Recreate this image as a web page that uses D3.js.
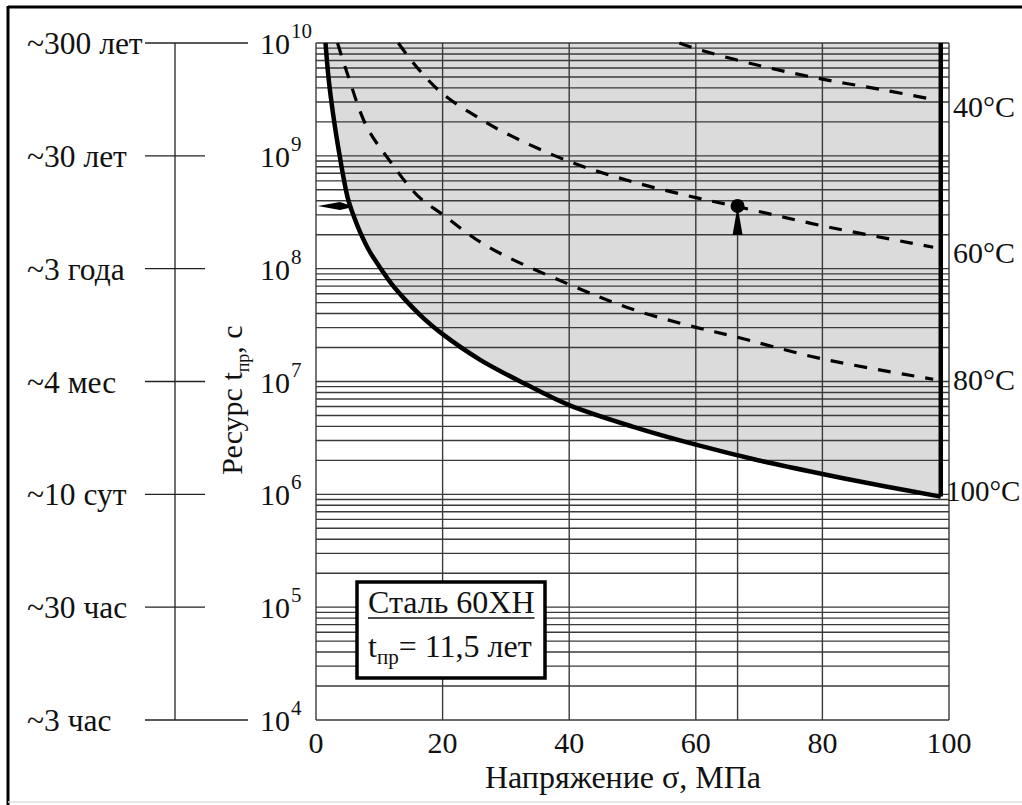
<!DOCTYPE html>
<html>
<head>
<meta charset="utf-8">
<script src="https://cdn.jsdelivr.net/npm/d3@7"></script>
<style>
  body { margin: 0; background: #fff; }
  svg { display: block; }
  text { font-family: "Liberation Serif", "Times New Roman", serif; fill: #111; }
</style>
</head>
<body>
<svg id="chart" width="1022" height="805"></svg>
<script>
// data
const sigmaTicks = [0, 20, 40, 60, 80, 100];
const decades = [4, 5, 6, 7, 8, 9, 10];
const timeLabels = ['~3 час', '~30 час', '~10 сут', '~4 мес', '~3 года', '~30 лет', '~300 лет'];
const minorSteps = [1, 2, 3, 4, 5, 6, 7, 8, 9];

// [sigma MPa, log10 t]
const curve100 = [[1.5, 10.0], [2.0, 9.68], [2.7, 9.37], [3.5, 9.08], [5.0, 8.63], [6.0, 8.46], [7.0, 8.32],
    [8.5, 8.15], [10, 8.02], [12, 7.86], [14, 7.73], [17, 7.56], [20, 7.42], [26, 7.19], [33, 6.98],
    [40, 6.79], [50, 6.6], [60, 6.44], [70, 6.3], [80, 6.18], [90, 6.07], [98.7, 5.98]];
const curve80 = [[3.4, 10.0], [5, 9.72], [8, 9.26], [11.6, 8.96], [16, 8.65], [20, 8.48], [27, 8.2],
    [40, 7.86], [50, 7.64], [60, 7.48], [66, 7.4], [80, 7.2], [97.5, 7.02]];
const curve60 = [[13, 10.0], [16, 9.78], [20, 9.55], [25, 9.36], [30, 9.2], [40, 8.95], [50, 8.77],
    [60, 8.63], [66.6, 8.55], [80, 8.38], [97.5, 8.19]];
const curve40 = [[57.4, 10.0], [60, 9.95], [70, 9.8], [80, 9.68], [90, 9.58], [97.5, 9.5]];
const tempLabels = ['100°C', '80°C', '60°C', '40°C'];

const sigmaLimit = 98.7;      // thick right boundary of the zone
const markerSigma = 66.6;     // working stress
const markerLogT = 8.556;     // 11,5 лет

// layout
const plotLeft = 316, plotRight = 949, plotTop = 43, plotBottom = 720;
const svg = d3.select('#chart');

const x = d3.scaleLinear().domain([0, 100]).range([plotLeft, plotRight]);
const y = d3.scaleLog().domain([1e4, 1e10]).range([plotBottom, plotTop]);
const yl = v => y(Math.pow(10, v));
const smooth = d3.curveCatmullRom.alpha(0.5);

// frame
svg.append('line').attr('x1', 8).attr('x2', 1030).attr('y1', 7).attr('y2', 7)
    .attr('stroke', '#000').attr('stroke-width', 3);
svg.append('line').attr('x1', 8).attr('x2', 8).attr('y1', 6).attr('y2', 805)
    .attr('stroke', '#000').attr('stroke-width', 3);
svg.append('line').attr('x1', 8).attr('x2', 1022).attr('y1', 802).attr('y2', 802)
    .attr('stroke', '#ddd').attr('stroke-width', 1.5);

// grey zone above the 100°C curve
const area = d3.area()
    .x(d => x(d[0]))
    .y0(y(1e10))
    .y1(d => yl(d[1]))
    .curve(smooth);
svg.append('path').datum(curve100).attr('d', area).attr('fill', '#dbdbdb');

// grid
const gGrid = svg.append('g').attr('stroke', '#3a3a3a').attr('stroke-width', 1.4);
const hLines = [];
decades.slice(0, -1).forEach(k => minorSteps.forEach(m => hLines.push(m * Math.pow(10, k))));
hLines.push(1e10);
gGrid.selectAll('line.h').data(hLines).join('line')
    .attr('class', 'h')
    .attr('x1', plotLeft).attr('x2', plotRight)
    .attr('y1', d => y(d)).attr('y2', d => y(d));
gGrid.selectAll('line.v').data(sigmaTicks).join('line')
    .attr('class', 'v')
    .attr('x1', d => x(d)).attr('x2', d => x(d))
    .attr('y1', plotTop).attr('y2', plotBottom);

// marker projection line
svg.append('line')
    .attr('x1', x(markerSigma)).attr('x2', x(markerSigma))
    .attr('y1', yl(markerLogT) + 28).attr('y2', plotBottom)
    .attr('stroke', '#3a3a3a').attr('stroke-width', 1.4);

// curves
const line = d3.line().x(d => x(d[0])).y(d => yl(d[1])).curve(smooth);
[curve80, curve60, curve40].forEach(c => {
    svg.append('path').datum(c).attr('d', line)
        .attr('fill', 'none').attr('stroke', '#000').attr('stroke-width', 3.2)
        .attr('stroke-dasharray', '13,11');
});
svg.append('path').datum(curve100).attr('d', line)
    .attr('fill', 'none').attr('stroke', '#000').attr('stroke-width', 4.5);
svg.append('line')
    .attr('x1', x(sigmaLimit)).attr('x2', x(sigmaLimit))
    .attr('y1', y(1e10)).attr('y2', yl(curve100[curve100.length - 1][1]))
    .attr('stroke', '#000').attr('stroke-width', 4.5);

// marker: dot + upward pointer
const mx = x(markerSigma), my = yl(markerLogT);
svg.append('path')
    .attr('d', `M${mx},${my} L${mx + 5},${my + 29} L${mx - 5},${my + 29} Z`)
    .attr('fill', '#000');
svg.append('circle').attr('cx', mx).attr('cy', my).attr('r', 7).attr('fill', '#000');

// arrow on the left edge at 11,5 лет
const ax = x(0.3), ay = yl(markerLogT);
svg.append('path')
    .attr('d', `M${ax},${ay} L${ax + 22},${ay - 4} L${ax + 31},${ay - 1} L${ax + 31},${ay + 2} L${ax + 22},${ay + 4} Z`)
    .attr('fill', '#000');

// temperature labels
const curveEnds = [curve100, curve80, curve60, curve40].map(c => c[c.length - 1][1]);
const labelDy = [4, 11, 16, 18];
tempLabels.forEach((t, i) => {
    svg.append('text')
        .attr('x', i === 0 ? 946 : 953)
        .attr('y', yl(curveEnds[i]) + labelDy[i])
        .attr('font-size', i === 0 ? 29 : 30)
        .text(t);
});

// x tick labels
svg.selectAll('text.xt').data(sigmaTicks).join('text')
    .attr('class', 'xt')
    .attr('x', d => x(d)).attr('y', 753)
    .attr('text-anchor', 'middle').attr('font-size', 30)
    .text(d => d);

// y tick labels 10^k
decades.forEach(k => {
    svg.append('text')
        .attr('x', 290).attr('y', y(Math.pow(10, k)) + 11)
        .attr('text-anchor', 'end').attr('font-size', 30)
        .text('10');
    svg.append('text')
        .attr('x', 291).attr('y', y(Math.pow(10, k)) - 5)
        .attr('font-size', 21)
        .text(k);
});

// time scale on the far left
const gTime = svg.append('g').attr('stroke', '#222').attr('stroke-width', 1.3);
gTime.append('line').attr('x1', 175).attr('x2', 175).attr('y1', y(1e4)).attr('y2', y(1e10));
decades.forEach((k, i) => {
    const yy = y(Math.pow(10, k));
    const ends = (i === 0 || i === decades.length - 1) ? 248 : 205;
    gTime.append('line').attr('x1', 145).attr('x2', ends).attr('y1', yy).attr('y2', yy);
    svg.append('text').attr('x', 27).attr('y', yy + 11).attr('font-size', 31.5).text(timeLabels[i]);
});

// axis titles
svg.append('text')
    .attr('x', 623).attr('y', 788)
    .attr('text-anchor', 'middle').attr('font-size', 32)
    .text('Напряжение σ, МПа');

const yTitle = svg.append('text')
    .attr('transform', 'translate(242,400) rotate(-90)')
    .attr('text-anchor', 'middle').attr('font-size', 30);
yTitle.append('tspan').text('Ресурс t');
yTitle.append('tspan').attr('font-size', 18).attr('dy', 7).text('пр');
yTitle.append('tspan').attr('dy', -7).text(', с');

// legend box
const box = svg.append('g');
box.append('rect')
    .attr('x', 357).attr('y', 582).attr('width', 188).attr('height', 96)
    .attr('fill', '#fff').attr('stroke', '#000').attr('stroke-width', 3.5);
const title = box.append('text').attr('x', 368).attr('y', 613).attr('font-size', 32).text('Сталь 60ХН');
const tw = title.node().getComputedTextLength();
box.append('line').attr('x1', 368).attr('x2', 368 + tw).attr('y1', 618).attr('y2', 618)
    .attr('stroke', '#111').attr('stroke-width', 1.5);
const t2 = box.append('text').attr('x', 368).attr('y', 657).attr('font-size', 32);
t2.append('tspan').text('t');
t2.append('tspan').attr('font-size', 21).attr('dy', 7).text('пр');
t2.append('tspan').attr('dy', -7).text('= 11,5 лет');
</script>
</body>
</html>
